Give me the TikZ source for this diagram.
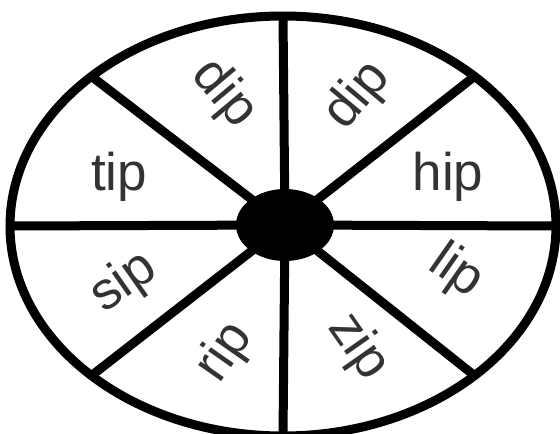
\documentclass[tikz,border=0pt]{standalone}
\usepackage{fontspec}
\setmainfont{Liberation Sans}
\usetikzlibrary{shapes.geometric}
\begin{document}
\begin{tikzpicture}[x=1pt,y=-1pt,
  rim/.style={ellipse,draw=black,line width=9pt,inner sep=0pt,outer sep=0pt,
    minimum width=546pt,minimum height=420pt},
  hub/.style={ellipse,fill=black,inner sep=0pt,outer sep=0pt,
    minimum width=98pt,minimum height=72pt},
  spoke/.style={line width=9pt,black},
  word/.style={font=\fontsize{53}{53}\selectfont,text=black!80,inner sep=0pt}]
\fill[white] (0,0) rectangle (560,434);
\useasboundingbox (0,0) rectangle (560,434);
\node[rim] (wheel) at (283,226) {};
\coordinate (c) at (285,225);
\draw[spoke] (c) -- (wheel.north);
\draw[spoke] (c) -- (wheel.south);
\draw[spoke] (c) -- (wheel.west);
\draw[spoke] (c) -- (wheel.east);
\draw[spoke] (c) -- (wheel.142);
\draw[spoke] (c) -- (wheel.38);
\draw[spoke] (c) -- (wheel.-142);
\draw[spoke] (c) -- (wheel.-38);
\node[hub] (hubnode) at (c) {};
\node[word] (w1) at (119,177) {tip};
\node[word] (w2) at (448,177) {hip};
\node[word,rotate=35] (w3) at (124,283) {sip};
\node[word,rotate=-35] (w4) at (456,272) {lip};
\node[word,rotate=55] (w5) at (225,353) {rip};
\node[word,rotate=-55] (w6) at (358,347) {zip};
\node[word,rotate=-50] (w7) at (224,94) {dip};
\node[word,rotate=50] (w8) at (358,96) {dip};
\end{tikzpicture}
\end{document}
